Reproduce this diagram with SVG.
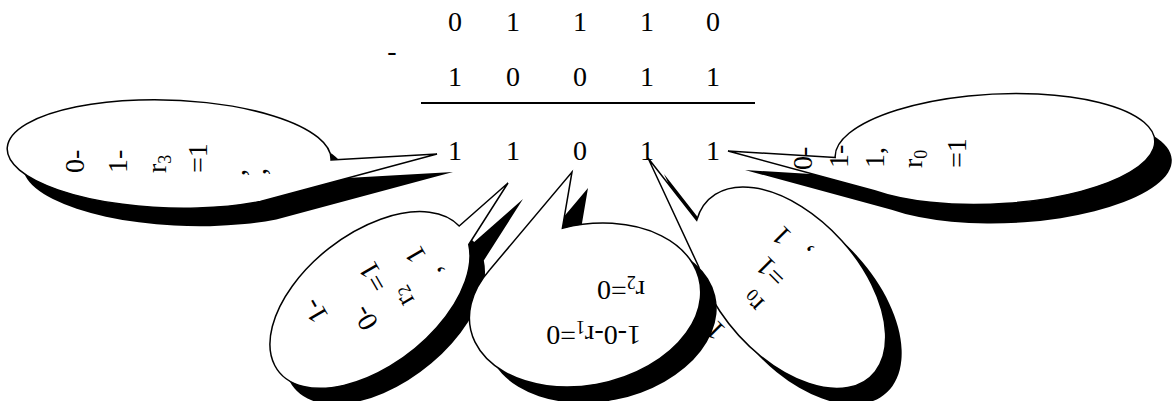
<svg xmlns="http://www.w3.org/2000/svg" width="1176" height="401" viewBox="0 0 1176 401">
<style>
text { font-family: "Liberation Serif", "Times New Roman", serif; fill: #000; }
.d { font-size: 28px; text-anchor: middle; }
.c { font-size: 28px; }
.m { text-anchor: middle; dominant-baseline: central; }
.sub { font-size: 18px; }
.bal { fill: #fff; stroke: #000; stroke-width: 1.5; stroke-linejoin: miter; }
.sh { fill: #000; stroke: none; }
</style>
<defs>
<path id="pA" d="M331,160 L437,154 L260.3,201.5 A162 54 2 1 1 331,160 Z"/>
<path id="pE" d="M835.2,157.4 L728,151 L874.5,190.7 A160 55 -3 1 0 835.2,157.4 Z"/>
<path id="pD" d="M696.7,220.2 L648,158 L698.6,266.5 A120 70 48 1 0 696.7,220.2 Z"/>
<path id="pB" d="M459.2,226 L508,183 L468.8,244.5 A116 66 -38 1 1 459.2,226 Z"/>
<path id="pC" d="M562.4,228.2 L572,172 L490,269.5 A117 80 -12 1 0 562.4,228.2 Z"/>
</defs>
<rect width="1176" height="401" fill="#fff"/>

<g id="callout-left">
<use href="#pA" class="sh" transform="translate(16,18)"/>
<use href="#pA" class="bal"/>
<text class="c" transform="translate(84,173) rotate(-90)">0-</text>
<text class="c" transform="translate(127,173) rotate(-90)">1-</text>
<text class="c" transform="translate(166,173) rotate(-90)">r<tspan class="sub" dy="5">3</tspan></text>
<text class="c" transform="translate(207,173) rotate(-90)">=1</text>
<text class="c" transform="translate(245,176) rotate(-90)">,</text>
<text class="c" transform="translate(266,175) rotate(-90)">,</text>
</g>

<g id="callout-right">
<use href="#pE" class="sh" transform="translate(17,19)"/>
<use href="#pE" class="bal"/>
<text class="c" transform="translate(812,170) rotate(-90)">0-</text>
<text class="c" transform="translate(848,168) rotate(-90)">1-</text>
<text class="c" transform="translate(884,168) rotate(-90)">1,</text>
<text class="c" transform="translate(922,168) rotate(-90)">r<tspan class="sub" dy="5">0</tspan></text>
<text class="c" transform="translate(966,168) rotate(-90)">=1</text>
</g>

<g id="callout-bottom-right">
<use href="#pD" class="sh" transform="translate(16,16)"/>
<use href="#pD" class="bal"/>
<text class="c m" transform="translate(752,302) rotate(-135)">r<tspan class="sub" dy="5">0</tspan></text>
<text class="c m" transform="translate(771,272) rotate(-135)">=1</text>
<text class="c m" transform="translate(803,255) rotate(-135)">,</text>
<text class="c m" transform="translate(781,236) rotate(-135)">1</text>
<text class="c m" transform="translate(715,331) rotate(-135)">1</text>
</g>

<g id="callout-bottom-left">
<use href="#pB" class="sh" transform="translate(15,16)"/>
<use href="#pB" class="bal"/>
<text class="c m" transform="translate(315,311) rotate(-120)">1-</text>
<text class="c m" transform="translate(365,318) rotate(-120)">0-</text>
<text class="c m" transform="translate(373,277) rotate(-120)">=1</text>
<text class="c m" transform="translate(402,297) rotate(-120)">r<tspan class="sub" dy="5">2</tspan></text>
<text class="c m" transform="translate(415,255) rotate(-120)">1</text>
<text class="c m" transform="translate(432,274) rotate(-120)">,</text>
</g>

<g id="callout-bottom-middle">
<use href="#pC" class="sh" transform="translate(16,16)"/>
<use href="#pC" class="bal"/>
<text class="c" transform="translate(641,326) rotate(180)">1-0-r<tspan class="sub" dy="5">1</tspan><tspan dy="-5">=0</tspan></text>
<text class="c" transform="translate(645,281) rotate(180)">r<tspan class="sub" dy="5">2</tspan><tspan dy="-5">=0</tspan></text>
</g>

<g id="subtraction">
<text class="d" x="455" y="31">0</text>
<text class="d" x="513" y="31">1</text>
<text class="d" x="580" y="31">1</text>
<text class="d" x="647" y="31">1</text>
<text class="d" x="713" y="31">0</text>
<text class="d" x="392" y="60">-</text>
<text class="d" x="455" y="86">1</text>
<text class="d" x="513" y="86">0</text>
<text class="d" x="580" y="86">0</text>
<text class="d" x="647" y="86">1</text>
<text class="d" x="713" y="86">1</text>
<text class="d" x="455" y="160">1</text>
<text class="d" x="513" y="160">1</text>
<text class="d" x="580" y="160">0</text>
<text class="d" x="647" y="160">1</text>
<text class="d" x="713" y="160">1</text>
</g>
<g id="connectors">
<line x1="421" y1="103" x2="755" y2="103" stroke="#000" stroke-width="2"/>
</g>
</svg>
